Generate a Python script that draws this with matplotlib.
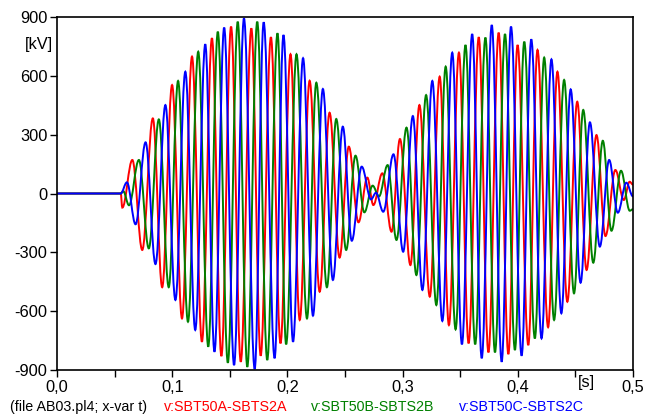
import matplotlib
matplotlib.use("Agg")
import matplotlib.pyplot as plt
from matplotlib.path import Path
from matplotlib.patches import PathPatch

plt.rcParams['font.family'] = ['Liberation Sans', 'DejaVu Sans']

# extremos: tiempo [s], tension [kV]
rojo_t = [0.0, 0.0553, 0.0567, 0.0654, 0.0740, 0.0832, 0.0913, 0.0999, 0.1085, 0.1172,
          0.1258, 0.1345, 0.1427, 0.1511, 0.1595, 0.1687, 0.1768, 0.1857, 0.1940, 0.2027,
          0.2107, 0.2193, 0.2280, 0.2366, 0.2453, 0.2533, 0.2617, 0.2694, 0.2746, 0.2824,
          0.2904, 0.2977, 0.3068, 0.3146, 0.3236, 0.3322, 0.3402, 0.3489, 0.3573, 0.3661,
          0.3745, 0.3834, 0.3918, 0.3998, 0.4091, 0.4171, 0.4263, 0.4344, 0.4430, 0.4516,
          0.4597, 0.4683, 0.4761, 0.4847, 0.4920, 0.4971, 0.5000]
rojo_v = [0, 0, -72, 171, -288, 383, -478, 553, -637, 698,
          -756, 792, -829, 851, -858, 842, -827, 797, -764, 710,
          -645, 575, -501, 412, -327, 239, -147, 81, -59, 103,
          -195, 278, -365, 451, -526, 596, -671, 718, -764, 797,
          -810, 820, -819, 757, -773, 732, -682, 621, -552, 468,
          -390, 298, -217, 120, -33, 60, 45]

verde_t = [0.0, 0.0553, 0.0575, 0.0625, 0.0711, 0.0797, 0.0884, 0.0970, 0.1051, 0.1137,
           0.1226, 0.1313, 0.1396, 0.1483, 0.1569, 0.1652, 0.1738, 0.1825, 0.1914, 0.1989,
           0.2079, 0.2170, 0.2251, 0.2343, 0.2424, 0.2510, 0.2591, 0.2668, 0.2740, 0.2795,
           0.2870, 0.2947, 0.3034, 0.3120, 0.3204, 0.3293, 0.3374, 0.3460, 0.3546, 0.3630,
           0.3719, 0.3802, 0.3889, 0.3975, 0.4056, 0.4148, 0.4229, 0.4315, 0.4402, 0.4488,
           0.4568, 0.4655, 0.4738, 0.4813, 0.4896, 0.4972, 0.5000]
verde_v = [0, 0, 12, -60, 171, -280, 378, -478, 574, -654,
           723, -781, 825, -863, 876, -884, 876, -849, 817, -769,
           710, -637, 565, -478, 380, -288, 193, -96, 40, -15,
           145, -237, 336, -416, 502, -569, 647, -693, 757, -769,
           795, -810, 813, -798, 774, -739, 693, -645, 579, -509,
           426, -353, 269, -190, 116, -88, -80]

azul_t = [0.0, 0.0553, 0.0607, 0.0682, 0.0769, 0.0855, 0.0941, 0.1028, 0.1114, 0.1200,
          0.1287, 0.1367, 0.1451, 0.1537, 0.1623, 0.1716, 0.1794, 0.1889, 0.1966, 0.2049,
          0.2136, 0.2222, 0.2308, 0.2395, 0.2481, 0.2559, 0.2645, 0.2726, 0.2769, 0.2832,
          0.2921, 0.3005, 0.3089, 0.3172, 0.3258, 0.3345, 0.3431, 0.3515, 0.3604, 0.3687,
          0.3774, 0.3860, 0.3941, 0.4033, 0.4117, 0.4206, 0.4292, 0.4378, 0.4459, 0.4545,
          0.4626, 0.4712, 0.4793, 0.4868, 0.4942, 0.5000]
azul_v = [0, 0, 57, -157, 261, -360, 451, -543, 621, -696,
          761, -807, 846, -875, 893, -895, 873, -840, 808, -756,
          690, -623, 533, -441, 341, -241, 137, -30, 4, -93,
          200, -297, 395, -492, 574, -650, 718, -769, 813, -840,
          859, -858, 851, -827, 786, -739, 684, -611, 531, -455,
          363, -271, 171, -98, 55, -15]

nombres = ["v:SBT50A-SBTS2A", "v:SBT50B-SBTS2B", "v:SBT50C-SBTS2C"]
colores = ["#ff0000", "#008000", "#0000ff"]

x_ticks = [0.0, 0.1, 0.2, 0.3, 0.4, 0.5]
x_labels = ["0,0", "0,1", "0,2", "0,3", "0,4", "0,5"]
x_minor = [0.05, 0.15, 0.25, 0.35, 0.45]
y_ticks = [-900, -600, -300, 0, 300, 600, 900]
y_labels = ["-900", "-600", "-300", "0", "300", "600", "900"]


def curva(ts, vs):
  # une los extremos con tramos bezier de tangente horizontal
  k = 0.3642
  verts = [(ts[0], vs[0])]
  codes = [Path.MOVETO]
  for i in range(1, len(ts)):
    dt = ts[i] - ts[i-1]
    verts += [(ts[i-1] + k*dt, vs[i-1]), (ts[i] - k*dt, vs[i]), (ts[i], vs[i])]
    codes += [Path.CURVE4]*3
  return Path(verts, codes)


fig = plt.figure(figsize=(6.46, 4.2), dpi=100)
ax = fig.add_axes([57/646, 1-370/420, (633-57)/646, (370-17)/420])

series = [(rojo_t, rojo_v), (verde_t, verde_v), (azul_t, azul_v)]
for (ts, vs), c in zip(series, colores):
  ax.add_patch(PathPatch(curva(ts, vs), fill=False, edgecolor=c, lw=1.4))

ax.set_xlim(0, 0.5)
ax.set_ylim(-900, 900)
ax.set_xticks(x_ticks)
ax.set_xticklabels(x_labels)
ax.set_xticks(x_minor, minor=True)
ax.set_yticks(y_ticks)
ax.set_yticklabels(y_labels)
ax.tick_params(axis='both', which='both', direction='out', length=5, width=1,
               labelsize=11.8, pad=2)
for s in ax.spines.values():
  s.set_linewidth(1.2)

fig.text(25/646, 1-45/420, "[kV]", fontsize=11.8, va='center', ha='left')
fig.text(578/646, 1-383/420, "[s]", fontsize=11.8, va='center', ha='left')

fig.text(10/646, 1-407/420, "(file AB03.pl4; x-var t)", fontsize=10.3, va='center', ha='left')
pos_x = [164, 311, 459]
for n, c, px in zip(nombres, colores, pos_x):
  fig.text(px/646, 1-407/420, n, fontsize=10.3, color=c, va='center', ha='left')

fig.savefig("out.png", dpi=100)
